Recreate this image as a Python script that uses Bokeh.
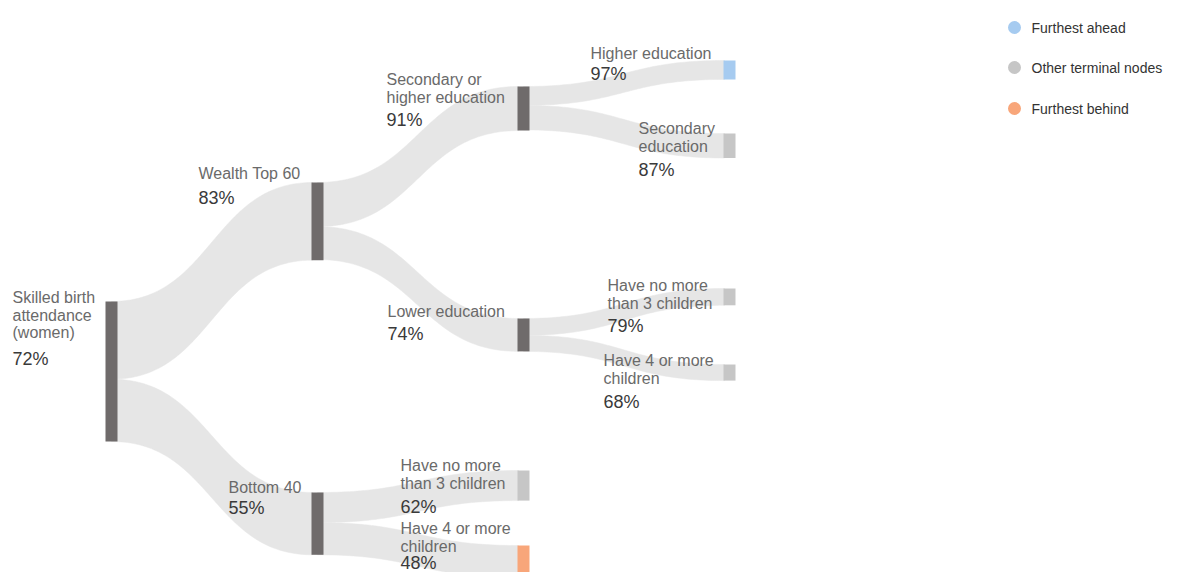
import numpy as np
from bokeh.plotting import figure
from bokeh.models import Range1d, ColumnDataSource
from bokeh.core.properties import value
from bokeh.embed import file_html
from bokeh.resources import INLINE

# ---------------- data ----------------
node_names = [
    "Skilled birth attendance (women)",
    "Wealth Top 60",
    "Bottom 40",
    "Secondary or higher education",
    "Lower education",
    "Higher education",
    "Secondary education",
    "Have no more than 3 children (top 60, lower edu)",
    "Have 4 or more children (top 60, lower edu)",
    "Have no more than 3 children (bottom 40)",
    "Have 4 or more children (bottom 40)",
]
label_lines = [
    ["Skilled birth", "attendance", "(women)"],
    ["Wealth Top 60"],
    ["Bottom 40"],
    ["Secondary or", "higher education"],
    ["Lower education"],
    ["Higher education"],
    ["Secondary", "education"],
    ["Have no more", "than 3 children"],
    ["Have 4 or more", "children"],
    ["Have no more", "than 3 children"],
    ["Have 4 or more", "children"],
]
pct_values = [72, 83, 55, 91, 74, 97, 87, 79, 68, 62, 48]
parents = [None, 0, 0, 1, 1, 3, 3, 4, 4, 2, 2]
# relative group size (bar length)
group_size = [100, 55.5, 44.5, 31.5, 23.5, 13.5, 17.5, 12.0, 11.5, 21.5, 23.0]
node_kind = ["inner", "inner", "inner", "inner", "inner",
             "ahead", "other", "other", "other", "other", "behind"]

legend_labels = ["Furthest ahead", "Other terminal nodes", "Furthest behind"]
legend_kinds = ["ahead", "other", "behind"]

# ---------------- layout / style ----------------
kind_color = {"inner": "#6f6b6b", "ahead": "#a6cbf0", "other": "#c6c6c6", "behind": "#f8a67a"}
link_color = "#e6e6e6"
col_x = [105, 311, 517, 723]          # left edge of bar per depth (px)
bar_w = 12
px_per_unit = 1.40
node_top = [301, 182, 492, 86, 318, 60, 133, 288, 364, 470, 545]
# label block: left x, first-line center y, gap to percent
label_x = [12, 198, 228, 386, 387, 590, 638, 607, 603, 400, 400]
label_y = [297, 173, 487, 79, 311, 53, 128, 285, 360, 465, 528]
pct_gap = [26, 24, 20, 23, 22, 20, 24, 23, 24, 24, 17]
line_step = 17.5

W, H = 1174, 572
p = figure(width=W, height=H, output_backend="svg", toolbar_location=None,
           x_range=Range1d(0, W), y_range=Range1d(H, 0),
           min_border=0, outline_line_color=None)
p.axis.visible = False
p.grid.visible = False
p.background_fill_color = "white"

def depth(i):
    d = 0
    while parents[i] is not None:
        i = parents[i]
        d += 1
    return d

n = len(node_names)
heights = [s * px_per_unit for s in group_size]
xs = [col_x[depth(i)] for i in range(n)]

# ---------- links ----------
t = np.linspace(0, 1, 60)
def bez(x0, y0, x1, y1):
    xm = (x0 + x1) / 2
    bx = (1 - t) ** 3 * x0 + 3 * (1 - t) ** 2 * t * xm + 3 * (1 - t) * t ** 2 * xm + t ** 3 * x1
    by = (1 - t) ** 3 * y0 + 3 * (1 - t) ** 2 * t * y0 + 3 * (1 - t) * t ** 2 * y1 + t ** 3 * y1
    return bx, by

offsets = {i: 0.0 for i in range(n)}
link_xs, link_ys = [], []
for c in range(n):
    par = parents[c]
    if par is None:
        continue
    x0 = xs[par] + bar_w / 2
    x1 = xs[c] + 1
    s0 = node_top[par] + offsets[par]
    s1 = s0 + heights[c]
    offsets[par] += heights[c]
    t0 = node_top[c]
    t1 = t0 + heights[c]
    tx, ty = bez(x0, s0, x1, t0)
    bx, by = bez(x0, s1, x1, t1)
    link_xs.append(list(tx) + list(bx[::-1]))
    link_ys.append(list(ty) + list(by[::-1]))
p.patches(link_xs, link_ys, fill_color=link_color, line_color=link_color, line_width=0.5)

# ---------- node bars ----------
bars = ColumnDataSource(dict(
    left=xs, right=[x + bar_w for x in xs],
    top=node_top, bottom=[node_top[i] + heights[i] for i in range(n)],
    color=[kind_color[k] for k in node_kind]))
p.quad(left="left", right="right", top="top", bottom="bottom",
       fill_color="color", line_color=None, source=bars)

# ---------- labels ----------
lx, ly, lt = [], [], []
px_, py_, pt_ = [], [], []
for i in range(n):
    for j, line in enumerate(label_lines[i]):
        lx.append(label_x[i]); ly.append(label_y[i] + j * line_step); lt.append(line)
    px_.append(label_x[i])
    py_.append(label_y[i] + (len(label_lines[i]) - 1) * line_step + pct_gap[i])
    pt_.append(f"{pct_values[i]}%")
p.text(lx, ly, text=lt, text_font=value("Liberation Sans"), text_font_size="16px",
       text_color="#6a6a6a", text_baseline="middle", text_align="left")
p.text(px_, py_, text=pt_, text_font=value("Liberation Sans"), text_font_size="18px",
       text_color="#3a3a3a", text_baseline="middle", text_align="left")

# ---------- legend ----------
leg_y = [27, 67, 108]
p.scatter([1014] * 3, leg_y, size=13, marker="circle",
          fill_color=[kind_color[k] for k in legend_kinds], line_color=None)
p.text([1031] * 3, leg_y, text=legend_labels, text_font=value("Liberation Sans"),
       text_font_size="14px", text_color="#333333", text_baseline="middle")

open("out.html", "w").write(file_html(p, INLINE))
